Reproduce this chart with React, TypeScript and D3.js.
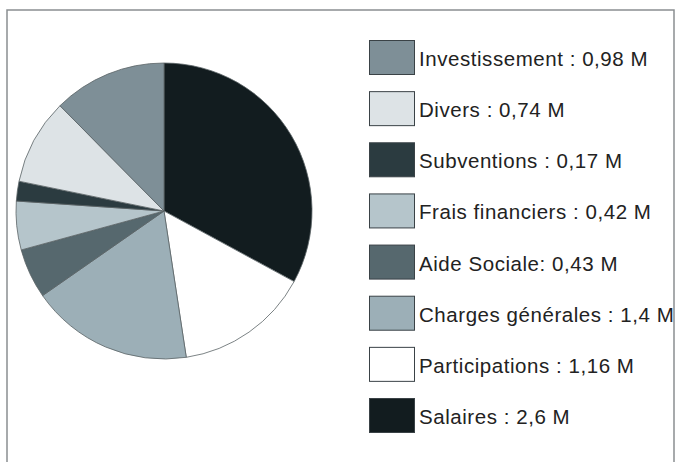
import React from "react";
import * as d3 from "d3";

const categories = [
  "Salaires",
  "Participations",
  "Charges générales",
  "Aide Sociale",
  "Frais financiers",
  "Subventions",
  "Divers",
  "Investissement",
];
const values = [2.6, 1.16, 1.4, 0.43, 0.42, 0.17, 0.74, 0.98];
const labels = [
  "Salaires : 2,6 M",
  "Participations : 1,16 M",
  "Charges générales : 1,4 M",
  "Aide Sociale: 0,43 M",
  "Frais financiers : 0,42 M",
  "Subventions : 0,17 M",
  "Divers : 0,74 M",
  "Investissement : 0,98 M",
];
const colors = [
  "#121c1f",
  "#ffffff",
  "#9cafb7",
  "#56686e",
  "#b5c5cb",
  "#2b3b40",
  "#dde3e6",
  "#7e8f97",
];
// legend order (top to bottom)
const legendOrder = [7, 6, 5, 4, 3, 2, 1, 0];

export default function App() {
  const W = 678;
  const H = 462;
  const cx = 164;
  const cy = 211;
  const r = 148;
  const pie = d3.pie<number>().sort(null).value((d) => d)(values);
  const arc = d3.arc<d3.PieArcDatum<number>>().innerRadius(0).outerRadius(r);
  const legendY = d3
    .scalePoint<number>()
    .domain(legendOrder)
    .range([40, 398]);

  return (
    <svg
      width={W}
      height={H}
      style={{ position: "absolute", left: 0, top: 0, background: "#fff" }}
    >
      <defs>
        <clipPath id="frame">
          <rect x={7} y={10} width={667} height={460} />
        </clipPath>
      </defs>
      <rect x={0} y={0} width={W} height={H} fill="#fff" />
      <path d="M7,462 V10 H674 V462" fill="none" stroke="#8a8f91" strokeWidth={1.5} />
      <g transform={`translate(${cx},${cy})`}>
        {pie.map((p, i) => (
          <path key={categories[i]} d={arc(p) || ""} fill={colors[i]} stroke="#5a6366" strokeWidth={0.8} />
        ))}
      </g>
      <g clipPath="url(#frame)">
        {legendOrder.map((i) => {
          const y = legendY(i) as number;
          return (
            <g key={categories[i]}>
              <rect x={369.5} y={y + 0.5} width={45} height={34} fill={colors[i]} stroke="#3a4246" strokeWidth={1} />
              <text
                x={419}
                y={y + 26}
                fontFamily="Liberation Sans, Arial, sans-serif"
                fontSize={20.5}
                letterSpacing={0.55}
                fill="#222"
              >
                {labels[i]}
              </text>
            </g>
          );
        })}
      </g>
    </svg>
  );
}
